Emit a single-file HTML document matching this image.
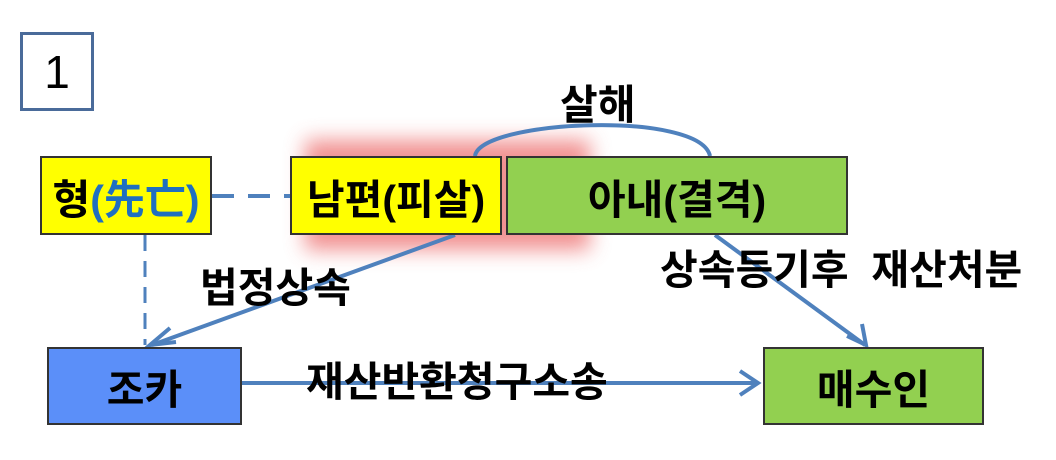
<!DOCTYPE html>
<html><head><meta charset="utf-8"><style>
body{margin:0;width:1056px;height:460px;background:#fff;position:relative;overflow:hidden;font-family:"Liberation Sans","Noto Sans CJK KR",sans-serif;}
.b{position:absolute;box-sizing:border-box;border:2px solid #333;display:flex;align-items:center;justify-content:center;font-weight:bold;font-size:41px;color:#000;}
.t{position:absolute;font-weight:bold;font-size:41px;color:#000;white-space:nowrap;line-height:1;}
</style></head><body>
<div style="position:absolute;left:20px;top:32px;width:74px;height:79px;box-sizing:border-box;border:3px solid #4a6b9a;display:flex;align-items:center;justify-content:center;font-size:46px;">1</div>
<div style="position:absolute;left:305px;top:140px;width:285px;height:110px;background:#e77;filter:blur(10px);opacity:0.8"></div>
<svg width="1056" height="460" style="position:absolute;left:0;top:0">
<line x1="212" y1="196" x2="332" y2="196" stroke="#4f81bd" stroke-width="4" stroke-dasharray="22,14"/>
<line x1="145" y1="235" x2="145" y2="345" stroke="#4f81bd" stroke-width="3" stroke-dasharray="16,10"/>
<path d="M475,156 C480,120 700,110 710,156" fill="none" stroke="#4f81bd" stroke-width="4"/>
<line x1="455" y1="235" x2="152" y2="345" stroke="#4f81bd" stroke-width="4"/>
<path d="M170,328 L150,345 L176,342" fill="none" stroke="#4f81bd" stroke-width="4"/>
<line x1="715" y1="235" x2="865" y2="345" stroke="#4f81bd" stroke-width="4"/>
<path d="M847,336 L866,345 L862,324" fill="none" stroke="#4f81bd" stroke-width="4"/>
<line x1="242" y1="383" x2="758" y2="383" stroke="#4f81bd" stroke-width="4"/>
<path d="M740,371 L758,383 L740,395" fill="none" stroke="#4f81bd" stroke-width="4"/>
</svg>
<div class="b" style="left:40px;top:156px;width:172px;height:79px;background:#ffff00;">형<span style="color:#1f6fc0">(先亡)</span></div>
<div class="b" style="left:290px;top:156px;width:212px;height:79px;background:#ffff00;">남편(피살)</div>
<div class="b" style="left:506px;top:156px;width:342px;height:79px;background:#92d050;">아내(결격)</div>
<div class="b" style="left:47px;top:347px;width:195px;height:78px;background:#5b8ff9;">조카</div>
<div class="b" style="left:763px;top:347px;width:221px;height:78px;background:#92d050;">매수인</div>
<div class="t" style="left:560px;top:85px;">살해</div>
<div class="t" style="left:200px;top:268px;">법정상속</div>
<div class="t" style="left:660px;top:250px;">상속등기후&nbsp; 재산처분</div>
<div class="t" style="left:306px;top:362px;">재산반환청구소송</div>
</body></html>
